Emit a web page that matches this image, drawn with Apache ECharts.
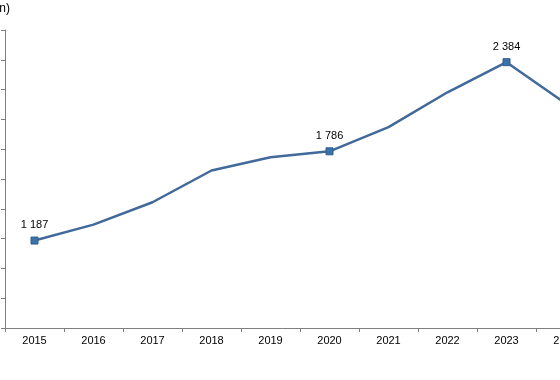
<!DOCTYPE html>
<html>
<head>
<meta charset="utf-8">
<script src="https://cdn.jsdelivr.net/npm/echarts@6/dist/echarts.min.js"></script>
<style>html,body{margin:0;padding:0;background:#fff;}#c{width:560px;height:380px;}</style>
</head>
<body>
<div id="c"></div>
<script>
var years = ['2015','2016','2017','2018','2019','2020','2021','2022','2023','2024'];
var values = [1187, 1294, 1444, 1657, 1746, 1786, 1948, 2182, 2384, 2108];
var labelledYears = ['2015','2020','2023'];
var unitText = '(EUR million)';

var chart = echarts.init(document.getElementById('c'), null, {renderer:'canvas'});
var data = values.map(function(v, i){
  var lab = labelledYears.indexOf(years[i]) >= 0;
  return {
    value: v,
    symbol: lab ? 'rect' : 'none',
    symbolSize: lab ? 7 : 0,
    label: {show: lab}
  };
});
chart.setOption({
  animation: false,
  backgroundColor: '#ffffff',
  graphic: [{
    type: 'text', x: 10, y: 3,
    style: {text: unitText, textAlign: 'right', fill: '#000', font: '12px Arial, "Liberation Sans", sans-serif'}
  }],
  grid: {left: 5, top: 30, right: -35, bottom: 52, containLabel: false, outerBoundsMode: 'none'},
  xAxis: {
    type: 'category', data: years, boundaryGap: true,
    axisLine: {lineStyle: {color: '#808080', width: 1}},
    axisTick: {show: true, length: 4, lineStyle: {color: '#808080'}},
    axisLabel: {color: '#000', fontSize: 11, fontFamily: 'Arial, "Liberation Sans", sans-serif', margin: 7},
    splitLine: {show: false}
  },
  yAxis: {
    type: 'value', min: 600, max: 2600, interval: 200,
    axisLine: {show: true, lineStyle: {color: '#808080', width: 1}},
    axisTick: {show: true, length: 4, lineStyle: {color: '#808080'}},
    axisLabel: {show: false},
    splitLine: {show: false}
  },
  series: [{
    type: 'line', data: data,
    lineStyle: {color: '#41699a', width: 2.5},
    itemStyle: {color: '#3a72aa', borderColor: '#2f5f8f', borderWidth: 1},
    label: {position: 'top', distance: 6, color: '#000', fontSize: 11, fontFamily: 'Arial, "Liberation Sans", sans-serif',
      formatter: function(p){ return String(p.value).replace(/\B(?=(\d{3})+(?!\d))/g, ' '); }},
    emphasis: {disabled: true}
  }]
});
</script>
</body>
</html>
